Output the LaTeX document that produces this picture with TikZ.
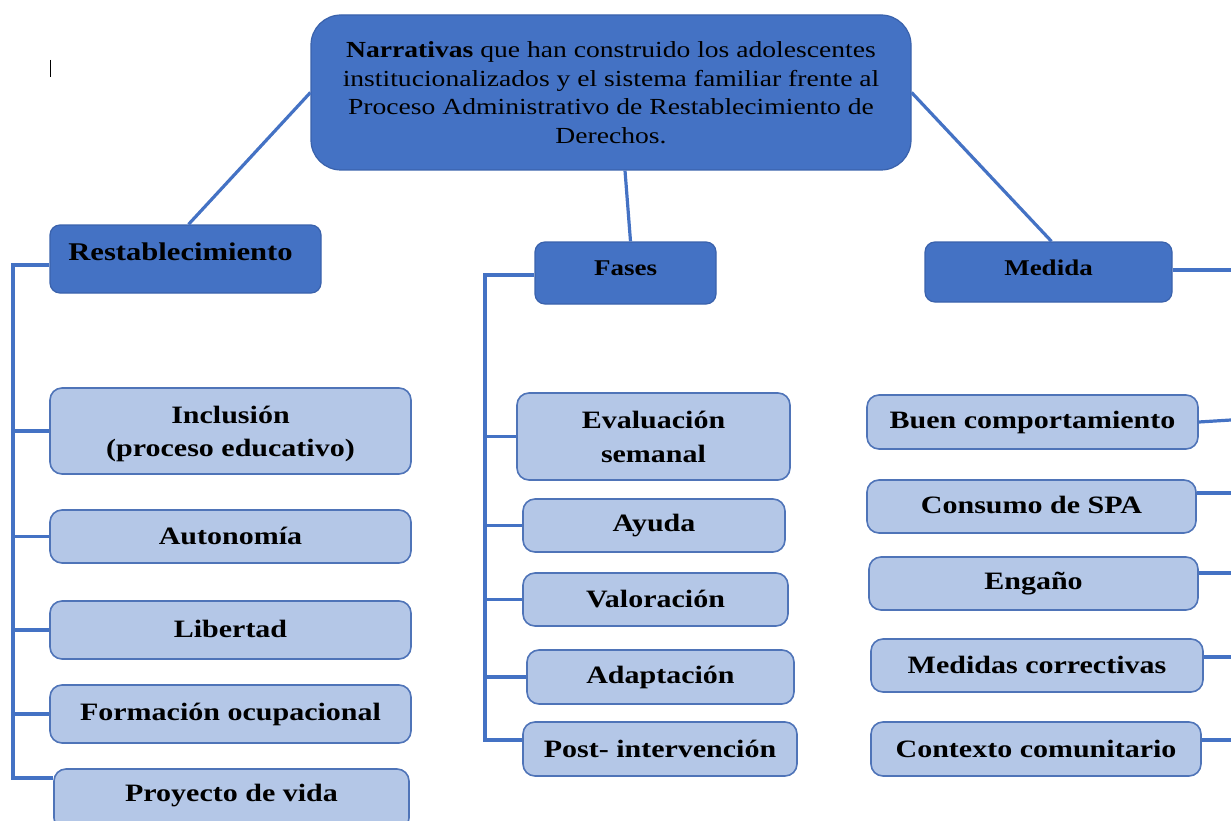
\documentclass[tikz,border=0pt]{standalone}
\usepackage{fontspec}
\setmainfont{Liberation Serif}[FakeStretch=1.2]
\usetikzlibrary{calc}
\definecolor{hdrf}{HTML}{4472C4}
\definecolor{hdrb}{HTML}{3A62AC}
\definecolor{subf}{HTML}{B4C7E7}
\definecolor{subb}{HTML}{4F74B8}
\definecolor{linkc}{HTML}{4472C4}
\begin{document}
\begin{tikzpicture}[x=1pt,y=-1pt,
  link/.style={draw=linkc, line width=3.2pt},
  hdr/.style={draw=hdrb, line width=1.2pt, fill=hdrf, rounded corners=10pt, inner sep=0pt},
  sub/.style={draw=subb, line width=1.6pt, fill=subf, rounded corners=12pt, inner sep=0pt,
    font=\bfseries\fontsize{25}{33}\selectfont, align=center},
  subtxt/.style={font=\bfseries\fontsize{25}{33}\selectfont, align=center, inner sep=0pt},
  lbl/.style={font=\bfseries\fontsize{25.5}{30}\selectfont, inner sep=0pt},
  lbls/.style={font=\bfseries\fontsize{22.5}{27}\selectfont, inner sep=0pt},
  wh/.style 2 args={minimum width=#1, minimum height=#2}
]
\useasboundingbox (0,0) rectangle (1231,821);
% cursor mark
\draw[black, line width=1pt] (50,60) -- (50,77);

% top node
\node[hdr, rounded corners=30pt, wh={600pt}{155pt}, align=center,
  font=\fontsize{23}{28.5}\selectfont] (top) at (611,92.5)
  {\textbf{Narrativas} que han construido los adolescentes\\
   institucionalizados y el sistema familiar frente al\\
   Proceso Administrativo de Restablecimiento de\\
   Derechos.};

% headers
\node[hdr, wh={271pt}{68pt}, label={[lbl, yshift=7pt, xshift=-5pt]center:Restablecimiento}] (rest) at (185.5,259) {};
\node[hdr, wh={181pt}{62pt}, label={[lbls, yshift=5pt]center:Fases}] (fases) at (625.5,273) {};
\node[hdr, wh={247pt}{60pt}, label={[lbls, yshift=4pt]center:Medida}] (medida) at (1048.5,272) {};

% Restablecimiento children
\node[sub, wh={361pt}{86pt}, label={[subtxt, yshift=-3pt]center:{Inclusión\\(proceso educativo)}}] (incl) at (230.5,431) {};
\node[sub, wh={361pt}{53pt}] (auto) at (230.5,536.5) {\raisebox{1pt}{Autonomía}};
\node[sub, wh={361pt}{58pt}] (lib) at (230.5,630) {\raisebox{3pt}{Libertad}};
\node[sub, wh={361pt}{58pt}] (form) at (230.5,714) {\raisebox{2pt}{Formación ocupacional}};
\node[sub, wh={355pt}{61pt}, label={[subtxt, yshift=4pt]center:Proyecto de vida}] (proy) at (231.5,799.5) {};

% Fases children
\node[sub, wh={273pt}{87pt}, font=\bfseries\fontsize{25}{34}\selectfont] (eval) at (653.5,436.5) {Evaluación\\semanal};
\node[sub, wh={262pt}{53pt}] (ayuda) at (654,525.5) {Ayuda};
\node[sub, wh={265pt}{53pt}] (valor) at (655.5,599.5) {\raisebox{2pt}{Valoración}};
\node[sub, wh={267pt}{54pt}] (adapt) at (660.5,677) {\raisebox{3pt}{Adaptación}};
\node[sub, wh={274pt}{54pt}] (post) at (660,749) {Post- intervención};

% Medida children
\node[sub, wh={331pt}{54pt}] (buen) at (1032.5,422) {Buen comportamiento};
\node[sub, wh={329pt}{53pt}] (cons) at (1031.5,506.5) {\raisebox{3pt}{Consumo de SPA}};
\node[sub, wh={329pt}{53pt}] (eng) at (1033.5,583.5) {\raisebox{3pt}{Engaño}};
\node[sub, wh={332pt}{53pt}] (med) at (1037,665.5) {\raisebox{1pt}{Medidas correctivas}};
\node[sub, wh={330pt}{54pt}] (ctx) at (1036,749) {Contexto comunitario};

% coordinates
\coordinate (rsp) at (13,265);
\coordinate (rbot) at (13,778);
\coordinate (fsp) at (485,275);
\coordinate (fbot) at (485,740);
\coordinate (m0) at (1231,270);
\coordinate (m1) at (1231,420);
\coordinate (m2) at (1231,493);
\coordinate (m3) at (1231,573);
\coordinate (m4) at (1231,657);
\coordinate (m5) at (1231,740);

% top links
\draw[link] (top.west) -- ([xshift=3pt]rest.north);
\draw[link] ([xshift=14pt]top.south) -- ([xshift=5pt]fases.north);
\draw[link] (top.east) -- ([xshift=3pt]medida.north);

% Restablecimiento tree
\draw[link] (rest.west |- rsp) -- (rsp) -- (rbot) -- (proy.west |- rbot);
\draw[link] (rsp |- incl.west) -- (incl.west);
\draw[link] (rsp |- auto.west) -- (auto.west);
\draw[link] (rsp |- lib.west) -- (lib.west);
\draw[link] (rsp |- form.west) -- (form.west);

% Fases tree
\draw[link] (fases.west |- fsp) -- (fsp) -- (fbot) -- (post.west |- fbot);
\draw[link] (fsp |- eval.west) -- (eval.west);
\draw[link] (fsp |- ayuda.west) -- (ayuda.west);
\draw[link] (fsp |- valor.west) -- (valor.west);
\draw[link] (fsp |- adapt.west) -- (adapt.west);

% Medida links to the right edge
\draw[link] (medida.east |- m0) -- (m0);
\draw[link] (buen.east) -- (m1);
\draw[link] (cons.east |- m2) -- (m2);
\draw[link] (eng.east |- m3) -- (m3);
\draw[link] (med.east |- m4) -- (m4);
\draw[link] (ctx.east |- m5) -- (m5);
\end{tikzpicture}
\end{document}
